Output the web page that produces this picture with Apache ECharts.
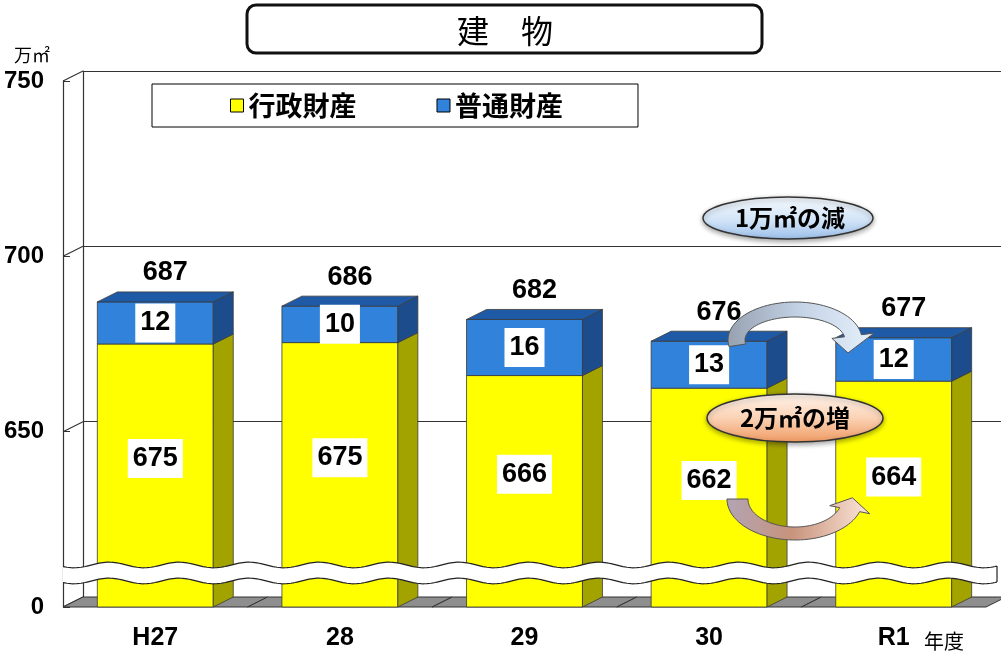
<!DOCTYPE html>
<html>
<head>
<meta charset="utf-8">
<script src="https://cdn.jsdelivr.net/npm/echarts@6/dist/echarts.min.js"></script>
<style>
  html, body { margin: 0; padding: 0; background: #fff; }
  #chart { width: 1001px; height: 657px; }
</style>
</head>
<body>
<div id="chart"></div>
<script>
// 建物（万㎡）: 行政財産 + 普通財産 by fiscal year
const categories = ['H27', '28', '29', '30', 'R1'];
const gyoseiValues = [675, 675.4, 666, 662.4, 664.4];
const futsuValues = [12, 10.4, 16, 13.4, 12.4];
const seriesNames = ['行政財産', '普通財産'];
const yTicks = [600, 650, 700, 750];
const yTickLabels = ['0', '650', '700', '750'];
// values between 0 and the break are cut out of the axis
const breakValue = 609.7;

const Y_MIN = 600, Y_MAX = 750, Y_STEP = 50;
const DX = 20, DY = 10;          // depth of the 3D box
const BAR_RATIO = 0.628;
const NUM_FONT = "'Liberation Sans', Arial, sans-serif";
const JP_FONT = "'Noto Sans CJK JP', sans-serif";

const gyoseiData = categories.map((c, i) => [i, 0, gyoseiValues[i]]);
const futsuData = categories.map((c, i) => [i, gyoseiValues[i], gyoseiValues[i] + futsuValues[i]]);

const faces = {
  gyosei: { front: '#FFFF00', side: '#A3A300', top: '#D6D600' },
  futsu: { front: '#3182DA', side: '#1C4C8C', top: '#1F5AA6' }
};

function textEl(text, x, y, extra) {
  return {
    type: 'text',
    style: Object.assign({
      text: text, x: x, y: y,
      align: 'center', verticalAlign: 'middle',
      textAlign: 'center', textVerticalAlign: 'middle',
      font: 'bold 27px ' + NUM_FONT, fill: '#000'
    }, extra || {})
  };
}

function renderSegment(colors, isTop) {
  return function (params, api) {
    const i = api.value(0);
    const rawBase = api.value(1);
    const top = api.value(2);
    const pT = api.coord([i, top]);
    const pB = api.coord([i, Math.max(rawBase, Y_MIN)]);
    const bw = api.size([1, 0])[0] * BAR_RATIO;
    const x0 = pT[0] - bw / 2, x1 = pT[0] + bw / 2;
    const yT = pT[1], yB = pB[1];
    const edge = { stroke: '#3a3a3a', lineWidth: 0.8 };
    const children = [
      { type: 'rect', shape: { x: x0, y: yT, width: bw, height: yB - yT },
        style: Object.assign({ fill: colors.front }, edge) },
      { type: 'polygon', shape: { points: [[x1, yT], [x1 + DX, yT - DY], [x1 + DX, yB - DY], [x1, yB]] },
        style: Object.assign({ fill: colors.side }, edge) }
    ];
    if (isTop) {
      children.push({ type: 'polygon', shape: { points: [[x0, yT], [x0 + DX, yT - DY], [x1 + DX, yT - DY], [x1, yT]] },
        style: Object.assign({ fill: colors.top }, edge) });
    }
    // segment value, centred on the part of the segment above the break
    const yLow = api.coord([i, Math.max(rawBase, breakValue)])[1];
    children.push(textEl(String(Math.round(top - rawBase)), pT[0], (yT + yLow) / 2,
      { backgroundColor: '#fff', padding: [6, 5] }));
    if (isTop) {
      children.push(textEl(String(Math.round(top)), pT[0] + DX / 2, yT - DY - 19));
    }
    return { type: 'group', children: children };
  };
}

function renderWallEdge(params, api) {
  const x = params.coordSys.x;
  const y = api.coord([0, api.value(1)])[1];
  return { type: 'line', shape: { x1: x, y1: y, x2: x + DX, y2: y - DY },
    style: { stroke: '#333', lineWidth: 1.2 } };
}

function renderFloor(params, api) {
  const p = api.coord([api.value(0), api.value(1)]);
  const hb = api.size([1, 0])[0] / 2;
  return { type: 'polygon',
    shape: { points: [[p[0] - hb, p[1]], [p[0] + hb, p[1]], [p[0] + hb + DX, p[1] - DY], [p[0] - hb + DX, p[1] - DY]] },
    style: { fill: '#8E8E8E', stroke: '#333', lineWidth: 1 } };
}

function renderBreak(params, api) {
  const cs = params.coordSys;
  const yc = api.coord([0, api.value(1)])[1];
  const xs = cs.x, xe = api.getWidth() - 4;
  const half = 8, amp = 2.8, period = 70;
  const up = [], lo = [];
  for (let x = xs; x <= xe + 0.01; x += 2) {
    const s = amp * Math.sin((x - xs) / period * 2 * Math.PI + 0.6);
    up.push([x, yc - half + s]);
    lo.push([x, yc + half + s]);
  }
  const line = { stroke: '#222', lineWidth: 1.2, fill: null };
  return { type: 'group', children: [
    { type: 'polygon', shape: { points: up.concat(lo.slice().reverse()) }, style: { fill: '#fff' } },
    { type: 'polyline', shape: { points: up }, style: line },
    { type: 'polyline', shape: { points: lo }, style: line },
    { type: 'line', shape: { x1: up[up.length - 1][0], y1: up[up.length - 1][1], x2: lo[lo.length - 1][0], y2: lo[lo.length - 1][1] }, style: line }
  ] };
}

// curved arrow outline on an elliptical arc (angles in screen degrees)
function arcArrow(a) {
  const rad = d => d * Math.PI / 180;
  const pt = (r, d) => [a.cx + r[0] * Math.cos(rad(d)), a.cy + r[1] * Math.sin(rad(d))];
  const n = 48, outer = [], inner = [];
  for (let k = 0; k <= n; k++) {
    const d = a.from + (a.to - a.from) * k / n;
    outer.push(pt(a.ro, d));
    inner.push(pt(a.ri, d));
  }
  const oe = outer[n], ie = inner[n];
  const vx = oe[0] - ie[0], vy = oe[1] - ie[1];
  const headO = [oe[0] + vx * a.spread, oe[1] + vy * a.spread];
  const headI = [ie[0] - vx * a.spread, ie[1] - vy * a.spread];
  const tip = pt([(a.ro[0] + a.ri[0]) / 2, (a.ro[1] + a.ri[1]) / 2], a.tip);
  return outer.concat([headO, tip, headI]).concat(inner.reverse());
}

const G = echarts.graphic;

const chart = echarts.init(document.getElementById('chart'), null, { renderer: 'canvas' });
chart.setOption({
  animation: false,
  backgroundColor: '#fff',
  grid: [
    { left: 63, right: 15, top: 81, bottom: 50 },
    { left: 83, right: 0, top: 71, bottom: 60 }
  ],
  xAxis: [
    { type: 'category', gridIndex: 0, data: categories,
      axisLine: { show: false }, axisTick: { show: false },
      axisLabel: { margin: 19, color: '#000', fontWeight: 'bold', fontSize: 25, fontFamily: NUM_FONT } },
    { type: 'category', gridIndex: 1, data: categories, show: false }
  ],
  yAxis: [
    { type: 'value', gridIndex: 0, min: Y_MIN, max: Y_MAX, interval: Y_STEP,
      axisLine: { show: true, lineStyle: { color: '#333', width: 1.2 } },
      axisTick: { show: true, inside: true, length: 7, lineStyle: { color: '#333' } },
      splitLine: { show: false },
      axisLabel: { margin: 19, color: '#000', fontWeight: 'bold', fontSize: 24, fontFamily: NUM_FONT,
        formatter: v => yTickLabels[yTicks.indexOf(v)] } },
    { type: 'value', gridIndex: 1, min: Y_MIN, max: Y_MAX, interval: Y_STEP,
      axisLine: { show: true, lineStyle: { color: '#333', width: 1.2 } },
      axisTick: { show: false }, axisLabel: { show: false },
      splitLine: { show: true, lineStyle: { color: '#333', width: 1.2 } } }
  ],
  legend: {
    data: [
      { name: seriesNames[0], itemStyle: { color: faces.gyosei.front, borderColor: '#000', borderWidth: 1 } },
      { name: seriesNames[1], itemStyle: { color: faces.futsu.front, borderColor: '#000', borderWidth: 1 } }
    ],
    left: 152, top: 84, icon: 'rect', itemWidth: 13, itemHeight: 13, itemGap: 80,
    padding: [8, 75, 8, 78], borderColor: '#000', borderWidth: 1, backgroundColor: '#fff',
    selectedMode: false,
    textStyle: { fontFamily: JP_FONT, fontWeight: 'bold', fontSize: 27, lineHeight: 27, color: '#000' }
  },
  series: [
    { type: 'custom', name: 'wall', silent: true, xAxisIndex: 0, yAxisIndex: 0,
      data: yTicks.map(v => [0, v]), renderItem: renderWallEdge },
    { type: 'custom', name: 'floor', silent: true, xAxisIndex: 0, yAxisIndex: 0,
      data: categories.map((c, i) => [i, Y_MIN]), renderItem: renderFloor },
    { type: 'custom', name: seriesNames[0], xAxisIndex: 0, yAxisIndex: 0,
      itemStyle: { color: faces.gyosei.front },
      data: gyoseiData, renderItem: renderSegment(faces.gyosei, false) },
    { type: 'custom', name: seriesNames[1], xAxisIndex: 0, yAxisIndex: 0,
      itemStyle: { color: faces.futsu.front },
      data: futsuData, renderItem: renderSegment(faces.futsu, true) },
    { type: 'custom', name: 'break', silent: true, z: 5, xAxisIndex: 0, yAxisIndex: 0,
      data: [[0, breakValue]], renderItem: renderBreak }
  ],
  graphic: [
    { type: 'rect', shape: { x: 247, y: 5, width: 515, height: 48, r: 9 },
      style: { fill: '#fff', stroke: '#111', lineWidth: 3 } },
    { type: 'text', x: 505, y: 31, style: { text: '建　物', font: "32px " + JP_FONT, fill: '#000',
      align: 'center', verticalAlign: 'middle', textAlign: 'center', textVerticalAlign: 'middle' } },
    { type: 'text', x: 14, y: 55, style: { text: '万㎡', font: "18px " + JP_FONT, fill: '#000',
      align: 'left', verticalAlign: 'middle', textAlign: 'left', textVerticalAlign: 'middle' } },
    { type: 'text', x: 944, y: 641, style: { text: '年度', font: "20px " + JP_FONT, fill: '#000',
      align: 'center', verticalAlign: 'middle', textAlign: 'center', textVerticalAlign: 'middle' } },
    { type: 'ellipse', z: 20, shape: { cx: 788, cy: 218, rx: 85, ry: 21 },
      style: { stroke: '#333', lineWidth: 1.5, shadowBlur: 5, shadowColor: 'rgba(0,0,0,0.35)', shadowOffsetY: 2,
        fill: new G.LinearGradient(0, 0, 0, 1, [{ offset: 0, color: '#F6FAFE' }, { offset: 0.55, color: '#D2E4F7' }, { offset: 1, color: '#9BBFEA' }]) } },
    { type: 'text', z: 21, x: 790, y: 218, style: { text: '1万㎡の減', font: "bold 24px " + JP_FONT, fill: '#000',
      align: 'center', verticalAlign: 'middle', textAlign: 'center', textVerticalAlign: 'middle' } },
    { type: 'ellipse', z: 20, shape: { cx: 795, cy: 418, rx: 88, ry: 24 },
      style: { stroke: '#333', lineWidth: 1.5, shadowBlur: 5, shadowColor: 'rgba(0,0,0,0.35)', shadowOffsetY: 2,
        fill: new G.LinearGradient(0, 0, 0, 1, [{ offset: 0, color: '#FFF5EE' }, { offset: 0.5, color: '#FBD2B4' }, { offset: 1, color: '#EE9A62' }]) } },
    { type: 'text', z: 21, x: 795, y: 418, style: { text: '2万㎡の増', font: "bold 24px " + JP_FONT, fill: '#000',
      align: 'center', verticalAlign: 'middle', textAlign: 'center', textVerticalAlign: 'middle' } },
    { type: 'polygon', z: 20,
      shape: { points: arcArrow({ cx: 795, cy: 340, ro: [67, 38], ri: [50, 23], from: 170, to: 352, tip: 385, spread: 0.75 }) },
      style: { stroke: '#555', lineWidth: 1,
        fill: new G.LinearGradient(0, 0, 1, 0, [{ offset: 0, color: '#97A1B0' }, { offset: 0.5, color: '#C4D3E6' }, { offset: 1, color: '#E6F0FB' }]) } },
    { type: 'polygon', z: 20,
      shape: { points: arcArrow({ cx: 795, cy: 499, ro: [68, 41], ri: [47, 28], from: 180, to: 18, tip: -2, spread: 0.5 }) },
      style: { stroke: '#555', lineWidth: 1,
        fill: new G.LinearGradient(0, 0, 1, 0, [{ offset: 0, color: '#B2A4B4' }, { offset: 0.45, color: '#C8937C' }, { offset: 1, color: '#FDE6DA' }]) } }
  ]
});
</script>
</body>
</html>
